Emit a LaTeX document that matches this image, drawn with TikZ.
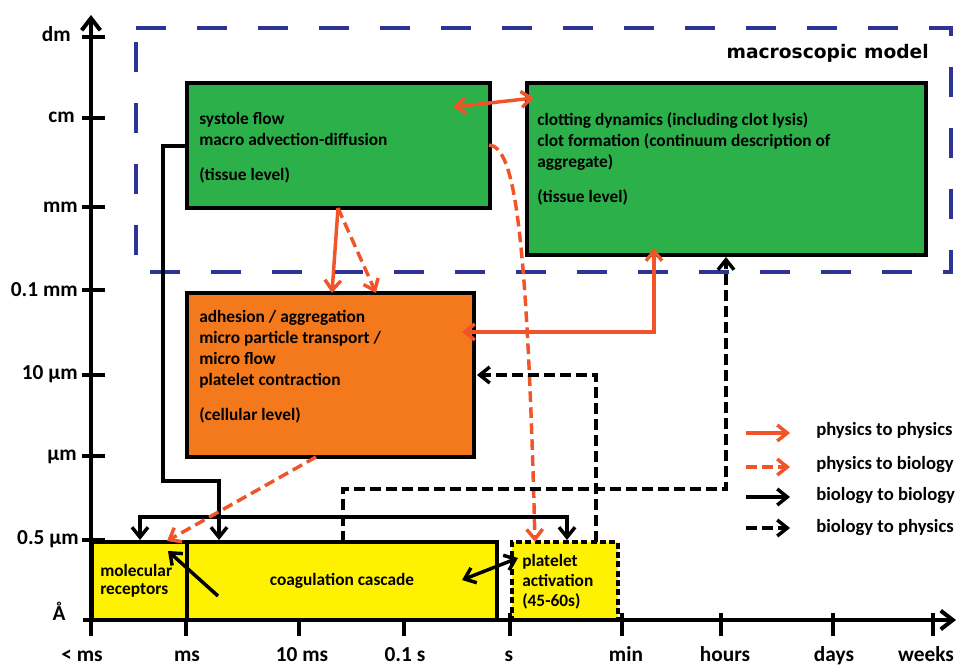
\documentclass[tikz,border=0pt]{standalone}
\usepackage{fontspec}
\setmainfont{Carlito}
\newfontfamily\dvs{DejaVu Sans}
\usetikzlibrary{arrows.meta,calc}
\definecolor{myred}{RGB}{240,84,40}
\definecolor{mygreen}{RGB}{44,176,74}
\definecolor{myorange}{RGB}{243,121,28}
\definecolor{myyellow}{RGB}{255,242,0}
\definecolor{myblue}{RGB}{46,52,148}
\begin{document}
\begin{tikzpicture}[x=0.75pt,y=-0.75pt,
  box/.style={draw=black,line width=2.3pt,anchor=north west,inner sep=0pt,outer sep=0pt},
  txt/.style={anchor=base west,inner sep=0pt,align=left,font=\fontsize{13}{15.75}\selectfont\bfseries},
  legtxt/.style={anchor=base west,inner sep=0pt,font=\fontsize{14}{16}\selectfont\bfseries},
  axl/.style={inner sep=0pt,font=\fontsize{16}{19}\selectfont\bfseries},
  conn/.style={line width=2.6pt},
  tip/.style={-{Straight Barb[length=7.5pt,width=12pt]}},
  both/.style={{Straight Barb[length=7.5pt,width=12pt]}-{Straight Barb[length=7.5pt,width=12pt]}},
  dsh/.style={dash pattern=on 8pt off 4pt},
  axisline/.style={line width=3pt},
  axtip/.style={-{Straight Barb[length=9pt,width=14pt]}}
]
\useasboundingbox (0,0) rectangle (958,666);

% macroscopic model frame
\draw[myblue,line width=3pt,dash pattern=on 22.5pt off 23.25pt]
  (136,28) -- (951,28) -- (951,272) -- (136,272) -- cycle;
\node[anchor=base east,inner sep=0pt,font=\dvs\fontsize{14}{16}\selectfont\bfseries] (macro) at (929,59) {macroscopic model};

% ticks
\foreach \y in {37,118,207,290,375,456,540} \draw[axisline] (82,\y) -- (105,\y);
\foreach \x in {186,299,404,510,622,721,833,933} \draw[axisline] (\x,613) -- (\x,636);

% boxes
\node[box,fill=mygreen,minimum width=227.25pt,minimum height=93.75pt] (g1) at (187,83) {};
\node[box,fill=mygreen,minimum width=299.25pt,minimum height=129pt] (g2) at (527,83) {};
\node[box,fill=myorange,minimum width=215.25pt,minimum height=123pt] (or) at (187,293) {};
\node[box,fill=myyellow,minimum width=71.25pt,minimum height=58.5pt] (mr) at (92,542) {};
\node[box,fill=myyellow,minimum width=232.5pt,minimum height=58.5pt,font=\fontsize{13}{15.75}\selectfont\bfseries] (cc) at (187,542) {coagulation cascade};
\node[box,fill=myyellow,dash pattern=on 4.5pt off 2.5pt,line width=2.3pt,minimum width=79.5pt,minimum height=58.5pt] (pa) at (512,542) {};

% box texts (anchored at the baseline of their last line)
\node[txt] (g1t) at (199,181) {systole flow\\macro advection-diffusion\\[10.5pt](tissue level)};
\node[txt] (g2t) at (537,203) {clotting dynamics (including clot lysis)\\clot formation (continuum description of\\aggregate)\\[10.5pt](tissue level)};
\node[txt] (ort) at (199,421) {adhesion / aggregation\\micro particle transport /\\micro flow\\platelet contraction\\[11pt](cellular level)};
\node[txt,font=\fontsize{13}{14}\selectfont\bfseries] (mrt) at (100,595) {molecular\\receptors};
\node[txt,font=\fontsize{13}{15}\selectfont\bfseries] (pat) at (522,607) {platelet\\activation\\(45-60s)};

% axes
\draw[axisline,axtip] (91,636) -- (91,15);
\draw[axisline,axtip] (83,620) -- (956,620);

% axis labels
\node[axl,anchor=base east] (ydm) at (71,42) {dm};
\node[axl,anchor=base east] (ycm) at (75,123) {cm};
\node[axl,anchor=base east] (ymm) at (78,213) {mm};
\node[axl,anchor=base east] (y01) at (78,297) {0.1 mm};
\node[axl,anchor=base east] (y10) at (78,380) {10 µm};
\node[axl,anchor=base east] (yum) at (77,461) {µm};
\node[axl,anchor=base east] (y05) at (79,545) {0.5 µm};
\node[axl,anchor=base] (yA) at (59,621) {Å};
\node[axl,anchor=base] (xa) at (82,662) {< ms};
\node[axl,anchor=base] (xb) at (187,662) {ms};
\node[axl,anchor=base] (xc) at (302,662) {10 ms};
\node[axl,anchor=base] (xd) at (405,662) {0.1 s};
\node[axl,anchor=base] (xe) at (509,662) {s};
\node[axl,anchor=base] (xf) at (626,662) {min};
\node[axl,anchor=base] (xg) at (725,662) {hours};
\node[axl,anchor=base] (xh) at (834,662) {days};
\node[axl,anchor=base] (xi) at (926,662) {weeks};

% connectors
\draw[conn,myred,both] ($(g1.north east)+(-37,24)$) -- ($(g2.north west)+(7,15)$);
\draw[conn,myred,tip] ($(g1.south west)+(151,0)$) -- ($(or.north west)+(145,0)$);
\draw[conn,myred,tip,dsh] ($(g1.south west)+(151,0)$) -- ($(or.north west)+(189,0)$);
\draw[conn,myred,tip,dsh] ($(g1.north east)+(-1,62)$) .. controls (515,147) and (527,230) .. ($(pa.north west)+(23,0)$);
\draw[conn,myred,both] ($(or.north east)+(-12,39)$) -| ($(g2.south west)+(127,-7)$);
\draw[conn,dsh,tip] ($(pa.north west)+(84,0)$) |- ($(or.north east)+(3,82)$);
\draw[conn,dsh,tip] ($(cc.north west)+(156,0)$) -- ++(0,-53) -| ($(g2.south west)+(199,2)$);
\draw[conn,tip] ($(g1.north west)+(0,63)$) -| (163,481) -| ($(cc.north west)+(32,-2)$);
\draw[conn,both] ($(mr.north west)+(48,-2)$) -- ++(0,-23) -| ($(pa.north west)+(55,-2)$);
\draw[conn,myred,dsh,tip] ($(or.south west)+(129,0)$) -- ($(mr.north west)+(75,-1)$);
\draw[conn,tip] ($(cc.north west)+(31,54)$) -- ($(mr.north west)+(76,9)$);
\draw[conn,both] ($(cc.north east)+(-35,38)$) -- ($(pa.north west)+(6,16)$);

% legend
\coordinate (la1) at (746,433); \coordinate (lb1) at (790,433);
\coordinate (la2) at (746,467); \coordinate (lb2) at (790,467);
\coordinate (la3) at (746,497); \coordinate (lb3) at (790,497);
\coordinate (la4) at (746,528); \coordinate (lb4) at (790,528);
\draw[conn,myred,tip] (la1) -- (lb1);
\draw[conn,myred,tip,dsh] (la2) -- (lb2);
\draw[conn,tip] (la3) -- (lb3);
\draw[conn,tip,dsh] (la4) -- (lb4);
\node[legtxt] (lt1) at (816,436) {physics to physics};
\node[legtxt] (lt2) at (816,470) {physics to biology};
\node[legtxt] (lt3) at (816,501) {biology to biology};
\node[legtxt] (lt4) at (816,533) {biology to physics};
\end{tikzpicture}
\end{document}
